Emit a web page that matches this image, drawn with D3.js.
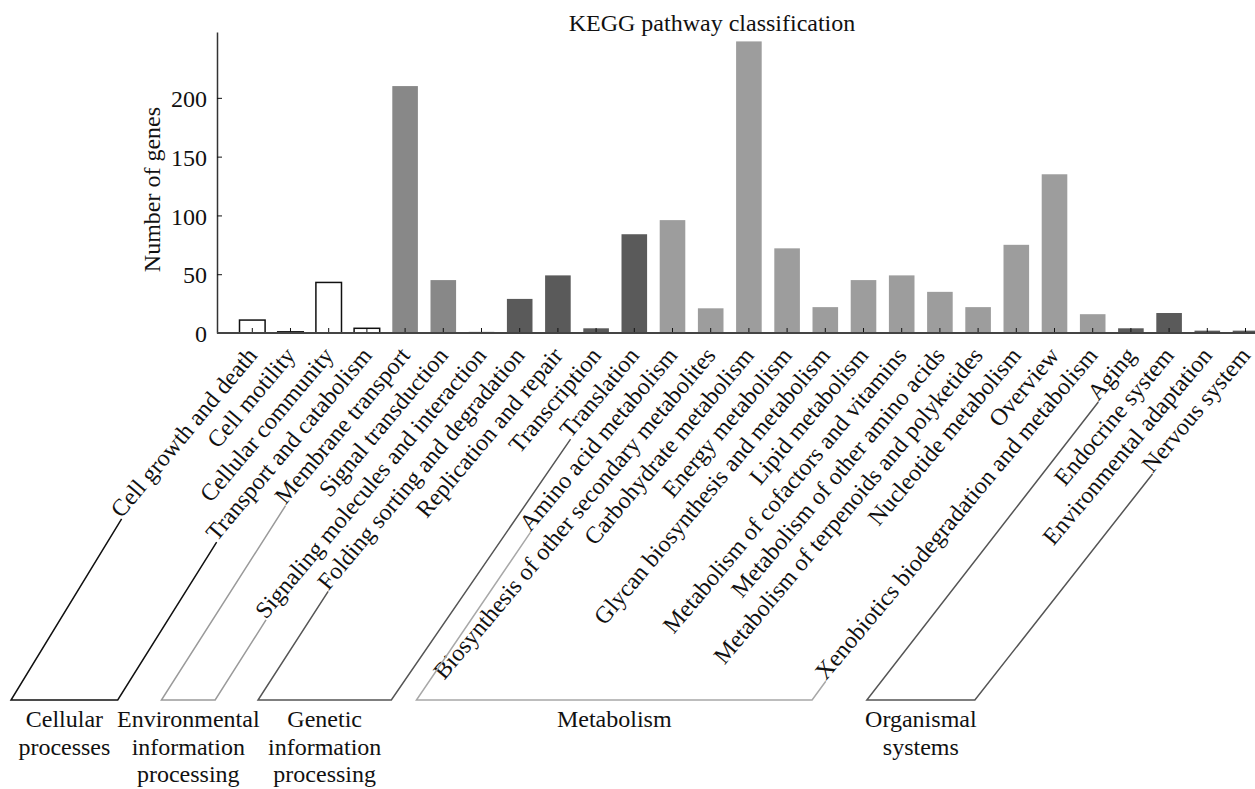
<!DOCTYPE html>
<html>
<head>
<meta charset="utf-8">
<script src="https://cdn.jsdelivr.net/npm/d3@7"></script>
<style>
  body { margin: 0; background: #fff; }
  text { font-family: "Liberation Serif", "Times New Roman", serif; fill: #111; }
</style>
</head>
<body>
<svg id="chart" width="1255" height="789"></svg>
<script>
var categories = [
  "Cell growth and death", "Cell motility", "Cellular community", "Transport and catabolism",
  "Membrane transport", "Signal transduction", "Signaling molecules and interaction",
  "Folding sorting and degradation", "Replication and repair", "Transcription", "Translation",
  "Amino acid metabolism", "Biosynthesis of other secondary metabolites", "Carbohydrate metabolism",
  "Energy metabolism", "Glycan biosynthesis and metabolism", "Lipid metabolism",
  "Metabolism of cofactors and vitamins", "Metabolism of other amino acids",
  "Metabolism of terpenoids and polyketides", "Nucleotide metabolism", "Overview",
  "Xenobiotics biodegradation and metabolism",
  "Aging", "Endocrine system", "Environmental adaptation", "Nervous system"
];
var counts = [11, 1, 43, 4, 210, 45, 1, 29, 49, 4, 84, 96, 21, 248, 72, 22, 45, 49, 35, 22, 75, 135, 16, 4, 17, 2, 2];
var groupOf = [0, 0, 0, 0, 1, 1, 1, 2, 2, 2, 2, 3, 3, 3, 3, 3, 3, 3, 3, 3, 3, 3, 3, 4, 4, 4, 4];
var groupLines = [
  ["Cellular", "processes"],
  ["Environmental", "information", "processing"],
  ["Genetic", "information", "processing"],
  ["Metabolism"],
  ["Organismal", "systems"]
];
var yTicks = [0, 50, 100, 150, 200];
var title = "KEGG pathway classification";
var yTitle = "Number of genes";

var fills = ["#ffffff", "#888888", "#5a5a5a", "#9d9d9d", "#5a5a5a"];
var bracketColors = ["#111111", "#9a9a9a", "#555555", "#a8a8a8", "#555555"];

var svg = d3.select("#chart");
var axisX = 217, baseY = 333, topY = 32;
var angle = 50, rad = angle * Math.PI / 180;
var labelDx = 6, labelDy = 23;
var bracketY = 700;

var x = d3.scaleBand()
  .domain(categories)
  .range([239.5, 1258.3])
  .paddingInner(0.33);

var y = d3.scaleLinear()
  .domain([0, 256])
  .range([baseY, topY]);

// title
svg.append("text")
  .attr("x", 712)
  .attr("y", 31)
  .attr("text-anchor", "middle")
  .style("font-size", "24px")
  .text(title);

// bars
svg.append("g")
  .selectAll("rect")
  .data(categories)
  .enter()
  .append("rect")
  .attr("x", function(d) { return x(d); })
  .attr("y", function(d, i) { return y(counts[i]); })
  .attr("width", x.bandwidth())
  .attr("height", function(d, i) { return baseY - y(counts[i]); })
  .attr("fill", function(d, i) { return fills[groupOf[i]]; })
  .attr("stroke", function(d, i) { return groupOf[i] === 0 ? "#111" : "none"; })
  .attr("stroke-width", 1.5);

// y axis, ticks inward
var yAxis = svg.append("g")
  .attr("transform", "translate(" + axisX + ",0)")
  .call(d3.axisLeft(y).tickValues(yTicks).tickSize(-5).tickSizeOuter(0).tickPadding(10));
yAxis.select(".domain").attr("stroke", "#333").attr("stroke-width", 1.5);
yAxis.selectAll(".tick line").attr("stroke", "#111");
yAxis.selectAll(".tick text")
  .style("font-size", "24px")
  .style("font-family", "Liberation Serif")
  .attr("fill", "#111")
  .attr("dy", "0.36em");

// x axis, small inward ticks at bar centres
var xAxis = svg.append("g")
  .attr("transform", "translate(0," + baseY + ")")
  .call(d3.axisBottom(x).tickSize(-5).tickSizeOuter(0).tickFormat(""));
xAxis.select(".domain").remove();
xAxis.selectAll(".tick line").attr("stroke", "#111");
svg.append("line")
  .attr("x1", axisX)
  .attr("x2", x.range()[1])
  .attr("y1", baseY)
  .attr("y2", baseY)
  .attr("stroke", "#444")
  .attr("stroke-width", 2);

svg.append("text")
  .attr("transform", "translate(152," + y(122) + ") rotate(-90)")
  .attr("text-anchor", "middle")
  .attr("dy", "0.35em")
  .style("font-size", "24px")
  .text(yTitle);

// rotated category labels
var labels = svg.append("g")
  .selectAll("text")
  .data(categories)
  .enter()
  .append("text")
  .attr("text-anchor", "end")
  .style("font-size", "24px")
  .attr("transform", function(d) {
    return "translate(" + (x(d) + x.bandwidth() / 2 + labelDx) + "," + (baseY + labelDy) + ") rotate(" + (-angle) + ")";
  })
  .text(function(d) { return d; });

// left end of each label's baseline
var starts = [];
labels.each(function(d) {
  var len = this.getComputedTextLength();
  var ex = x(d) + x.bandwidth() / 2 + labelDx, ey = baseY + labelDy;
  starts.push([ex - len * Math.cos(rad), ey + len * Math.sin(rad)]);
});

// bracket legs get a little steeper toward the right
function foot(p) {
  var s = 0.59 + 0.00017 * p[0];
  return [p[0] - s * (bracketY - p[1]), bracketY];
}

// group brackets
groupLines.forEach(function(lines, g) {
  var idx = d3.range(categories.length).filter(function(i) { return groupOf[i] === g; });
  var a = starts[idx[0]], b = starts[idx[idx.length - 1]];
  var a0 = foot(a), b0 = foot(b);
  svg.append("path")
    .attr("d", d3.line()([a, a0, b0, b]))
    .attr("fill", "none")
    .attr("stroke", bracketColors[g])
    .attr("stroke-width", 1.5);
  var cx = (a0[0] + b0[0]) / 2;
  var t = svg.append("text")
    .attr("text-anchor", "middle")
    .style("font-size", "24px");
  lines.forEach(function(s, k) {
    t.append("tspan")
      .attr("x", cx)
      .attr("y", 727 + k * 27.5)
      .text(s);
  });
});
</script>
</body>
</html>
